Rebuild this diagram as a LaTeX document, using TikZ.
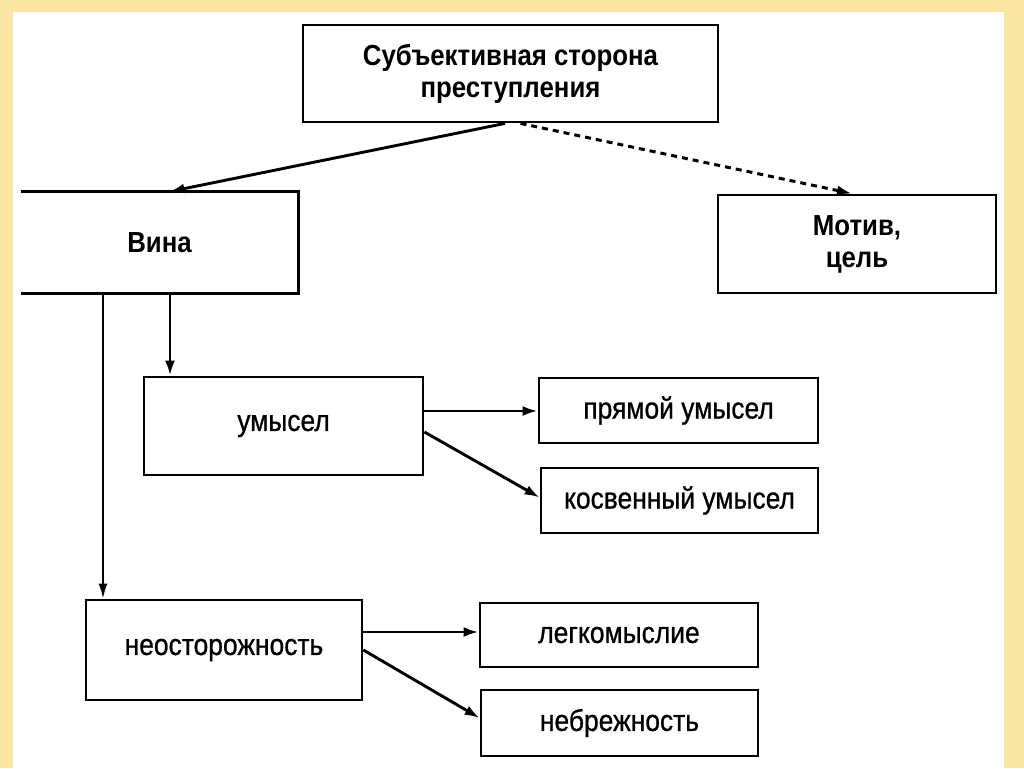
\documentclass[tikz,border=0pt]{standalone}
\usepackage{fontspec}
\setmainfont{Liberation Sans}[FakeStretch=0.89]
\newfontfamily\medfont{Liberation Sans}[FakeStretch=0.88, FakeBold=0.8]
\usetikzlibrary{arrows.meta}
\definecolor{frameyellow}{RGB}{250,230,160}
\tikzset{
  box/.style={draw, line width=2.8pt, inner sep=0pt, align=center, font=\medfont\fontsize{30}{32}\selectfont},
  boldbox/.style={box, font=\fontsize{29}{32}\selectfont\bfseries},
  arr/.style={line width=2.9pt, -{Latex[length=15pt,width=10pt]}},
  thinarr/.style={line width=2pt, -{Latex[length=15pt,width=9pt]}},
  dasharr/.style={line width=3pt, dash pattern=on 6pt off 5pt, -{Latex[length=15pt,width=10pt]}}
}
\begin{document}
\begin{tikzpicture}[x=1pt,y=-1pt]
\useasboundingbox (0,0) rectangle (1024,768);
\fill[frameyellow] (0,0) rectangle (1024,768);
\fill[white] (13,12) rectangle (1004,768);

\node[boldbox, minimum width=415pt, minimum height=97pt] (top) at (510.5,73.5) {Субъективная сторона\\преступления};
\node[boldbox, draw=none, minimum width=275pt, minimum height=99pt] (vina) at (159.5,242.5) {Вина};
\draw[line width=2.8pt] (vina.north west) -- (vina.north east) -- (vina.south east) -- (vina.south west);
\node[boldbox, minimum width=278pt, minimum height=98pt] (motiv) at (857,244) {Мотив,\\цель};

\node[box, minimum width=279pt, minimum height=98pt] (umysel) at (283.5,426) {умысел};
\node[box, minimum width=279pt, minimum height=65pt] (pryam) at (678.5,410.5) {прямой умысел};
\node[box, minimum width=277pt, minimum height=65pt] (kosv) at (679.5,500.5) {косвенный умысел};

\node[box, minimum width=276pt, minimum height=100pt] (neos) at (224,650) {неосторожность};
\node[box, minimum width=278pt, minimum height=64pt] (legk) at (619,635) {легкомыслие};
\node[box, minimum width=277pt, minimum height=66pt] (nebr) at (619.5,723) {небрежность};

\draw[arr] ([xshift=-5.5pt]top.south) -- ([xshift=10pt]vina.north);
\draw[dasharr] ([xshift=10pt]top.south) -- ([xshift=-5pt]motiv.north);

\coordinate (v1) at ([xshift=10.5pt]vina.south);
\coordinate (v2) at ([xshift=-56.5pt]vina.south);
\draw[arr] (v1) -- (v1 |- umysel.north);
\draw[thinarr] (v2) -- (v2 |- neos.north);

\coordinate (u1) at ([yshift=15pt]umysel.east);
\draw[arr] (u1) -- (u1 -| pryam.west);
\draw[arr] ([yshift=-6pt]umysel.east) -- ([yshift=3pt]kosv.west);

\coordinate (n1) at ([yshift=18pt]neos.east);
\draw[arr] (n1) -- (n1 -| legk.west);
\draw[arr] (neos.east) -- ([yshift=5pt]nebr.west);
\end{tikzpicture}
\end{document}
